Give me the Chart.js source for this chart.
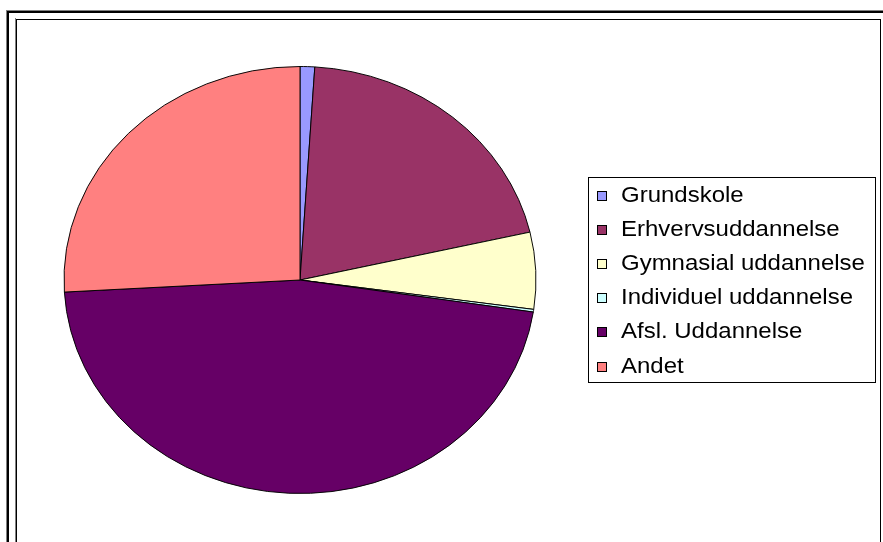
<!DOCTYPE html>
<html>
<head>
<meta charset="utf-8">
<script src="https://cdn.jsdelivr.net/npm/chart.js@4/dist/chart.umd.min.js"></script>
<style>
html,body{margin:0;padding:0;background:#fff;}
#wrap{position:relative;width:883px;height:542px;}
canvas{display:block;}
</style>
</head>
<body>
<div id="wrap"><canvas id="c" width="883" height="542"></canvas></div>
<script>
const categories = ["Grundskole", "Erhvervsuddannelse", "Gymnasial uddannelse", "Individuel uddannelse", "Afsl. Uddannelse", "Andet"];
const values = [1.0, 20.4, 5.8, 0.2, 46.7, 25.9];
const colors = ["#9999FF", "#993366", "#FFFFCC", "#CCFFFF", "#660066", "#FF8080"];

const CX = 300, CY = 280, RX = 236, RY = 213.5;

const framePlugin = {
  id: 'frame',
  beforeDraw(chart) {
    const ctx = chart.ctx;
    ctx.save();
    ctx.fillStyle = '#fff';
    ctx.fillRect(0, 0, chart.width, chart.height);
    // outer frame
    ctx.fillStyle = '#808080';
    ctx.fillRect(6, 10, chart.width - 6, 1);
    ctx.fillRect(6, 10, 1, chart.height - 10);
    ctx.fillStyle = '#000';
    ctx.fillRect(7, 11, chart.width - 7, 2);
    ctx.fillRect(7, 11, 2, chart.height - 11);
    // inner frame
    ctx.fillStyle = '#808080';
    ctx.fillRect(15, 18, 1, chart.height - 18);
    ctx.fillStyle = '#000';
    ctx.fillRect(16, 19, 865, 1);
    ctx.fillRect(16, 19, 1, chart.height - 19);
    ctx.fillRect(880, 19, 1, chart.height - 19);
    ctx.restore();
  }
};

const ellipsePlugin = {
  id: 'ellipse',
  beforeDatasetsDraw(chart) {
    const ctx = chart.ctx;
    ctx.save();
    ctx.translate(CX, CY);
    ctx.scale(1, RY / RX);
    ctx.translate(-CX, -CY);
  },
  afterDatasetsDraw(chart) {
    chart.ctx.restore();
  }
};

const legendPlugin = {
  id: 'boxLegend',
  afterDraw(chart) {
    const ctx = chart.ctx;
    const labels = chart.data.labels;
    const bg = chart.data.datasets[0].backgroundColor;
    ctx.save();
    ctx.strokeStyle = '#000';
    ctx.lineWidth = 1;
    ctx.strokeRect(588.5, 177.5, 287, 205);
    const y0 = 195.5, dy = 34.2;
    ctx.font = '22px "Liberation Sans", Arial, sans-serif';
    ctx.textBaseline = 'middle';
    ctx.fillStyle = '#000';
    labels.forEach((lab, i) => {
      const y = y0 + i * dy;
      ctx.fillStyle = bg[i];
      ctx.fillRect(597, Math.round(y - 5), 10, 10);
      ctx.strokeStyle = '#000';
      ctx.strokeRect(597.5, Math.round(y - 5) + 0.5, 9, 9);
      ctx.fillStyle = '#000';
      ctx.save();
      ctx.translate(621, y);
      ctx.scale(1.09, 1);
      ctx.fillText(lab, 0, 0);
      ctx.restore();
    });
    ctx.restore();
  }
};

new Chart(document.getElementById('c'), {
  type: 'pie',
  data: {
    labels: categories,
    datasets: [{
      data: values,
      backgroundColor: colors,
      borderColor: '#000',
      borderWidth: 1,
      borderAlign: 'center'
    }]
  },
  options: {
    responsive: false,
    animation: false,
    radius: RX,
    layout: { padding: { left: 0, right: 283, top: 18, bottom: 0 } },
    plugins: {
      legend: { display: false },
      tooltip: { enabled: false }
    }
  },
  plugins: [framePlugin, ellipsePlugin, legendPlugin]
});
</script>
</body>
</html>
